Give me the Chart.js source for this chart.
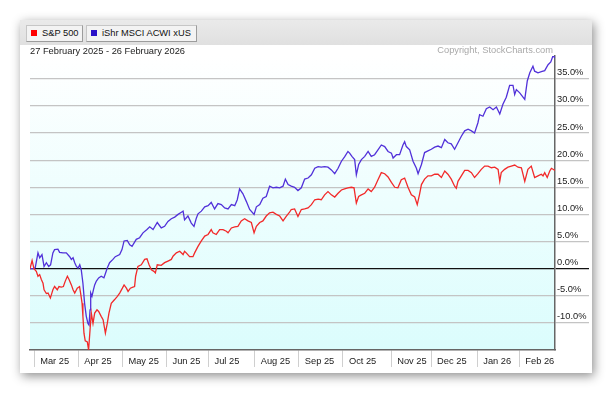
<!DOCTYPE html>
<html><head><meta charset="utf-8">
<script src="https://cdn.jsdelivr.net/npm/chart.js@4.4.1/dist/chart.umd.min.js"></script>
<style>
html,body{margin:0;padding:0;background:#fff;width:612px;height:394px;overflow:hidden;font-family:"Liberation Sans",Arial,sans-serif;}
#card{position:absolute;left:20px;top:20px;width:572px;height:353px;background:#fff;box-shadow:2px 3px 10px rgba(0,0,0,0.45);}
#hdr{position:absolute;left:20px;top:20px;width:572px;height:25px;background:linear-gradient(#eaeaea,#e0e0e0);}
.btn{position:absolute;top:25px;height:15px;background:#f3f3f3;border:1px solid #c6c6c6;border-right-color:#9c9c9c;border-bottom-color:#9c9c9c;font-size:9.3px;line-height:15px;color:#111;white-space:nowrap;z-index:3;}
.btn span{position:absolute;top:0;}
.sq{position:absolute;top:4px;width:6px;height:6px;}
#wrap{position:absolute;left:0;top:0;width:612px;height:394px;z-index:2;}
.txt{position:absolute;font-size:9.3px;white-space:nowrap;z-index:3;line-height:11px;}
</style></head>
<body>
<div id="card"></div>
<div id="hdr"></div>
<div class="btn" style="left:26px;width:55px;"><div class="sq" style="left:4px;background:#ff0000;"></div><span style="left:15px;">S&amp;P 500</span></div>
<div class="btn" style="left:86px;width:109px;"><div class="sq" style="left:4px;background:#2a12c8;"></div><span style="left:15px;">iShr MSCI ACWI xUS</span></div>
<div class="txt" style="left:30px;top:45.5px;color:#222;">27 February 2025 - 26 February 2026</div>
<div class="txt" style="right:59px;top:45px;color:#a9a9a9;">Copyright, StockCharts.com</div>
<div id="wrap"><canvas id="c" width="612" height="394"></canvas></div>
<script>
// Trading-day index (0 = 27 Feb 2025, 250 = 26 Feb 2026) and % change
const spxDay = [0,1,1.9,3,3.8,4.6,5.4,6.2,6.7,7.8,8.6,9.7,10.2,10.9,11.7,13,13.8,14.9,15.9,16.8,17.8,18.6,19.7,20.5,21.3,22.5,23.6,24.1,24.8,25.2,25.7,26.3,27.3,27.9,28.7,29.2,30,30.8,31.9,32.7,33.9,34.8,35.9,36.8,37.6,38.7,40.3,41.6,42.7,44,44.8,45.9,46.7,47.8,49,49.8,50.3,51.4,53,54.6,55.7,56.7,57.8,59,59.7,60.6,62.5,64.1,65.7,67.3,68.1,69.7,71.3,72.9,73.6,74.4,76,77.6,78.4,80,81.6,83.2,84.8,86.3,87.1,88.7,90.3,91.9,93.5,94.3,95.9,97.5,99,100.6,102.2,103.8,105.4,106.7,107.8,109.4,110.9,112.5,114.1,115.7,117.3,118.9,120.5,122.1,123.6,124.4,126,127.6,129.2,130.8,132.4,134,135.6,137.2,138.7,140.3,141.9,143.5,145.1,146.7,148.3,149.8,151.4,153,154.3,155.4,156.5,157.8,159.4,161,162.5,164.1,165.7,167.3,168.9,170.5,172.1,173.7,175.2,176.8,178.4,180,181.6,183.2,184.4,185.5,186.4,187.9,189.5,191.1,192.7,194.3,195.9,197.5,199,200.6,202.2,203,203.8,205.4,207,208.6,210.2,211.7,213.3,214.9,216.5,218.1,219.7,221.3,222.9,223.7,224.4,226,227.6,229.2,230.8,232.4,234,235.6,237.1,238.7,240.3,241.9,243.5,244.3,245.1,246.3,247.5,248.3,250];
const spxPct = [0,1.5,0,-0.5,-1.4,-1.1,-2,-2.7,-3.9,-4.6,-4.5,-5.4,-4.8,-3.9,-3.3,-3.9,-3.3,-3.4,-3.3,-2.3,-1.4,-2,-3,-3.9,-4.5,-3.6,-3.3,-4.5,-6.4,-8.8,-11.9,-13.3,-13.5,-15,-10.7,-8.2,-10.1,-8.2,-7.6,-7.9,-8.8,-9.4,-11.9,-10.1,-8.2,-6.4,-5.7,-5.1,-4.5,-3.6,-3,-3.6,-4.2,-3.6,-3.4,-3.3,-1.4,0.4,0.7,1.7,1.8,0.7,-0.2,-0.5,-0.8,0.7,0.6,1.1,1.4,1.7,2.3,2.9,3.2,2.6,3.2,2.9,2.2,2.2,2.9,4.1,5.1,6,6.3,7.2,6.6,6.3,7.2,7.2,6.9,6.6,7.5,7.7,7.8,8.8,9.2,8.8,8.5,6.6,7.8,8.5,8.8,9.7,10.3,10.4,10,9.7,8.8,9.7,10.4,10.9,11,9.6,10.9,11,11.2,11.8,12.7,12.8,12.7,13.6,14.2,13.6,13.2,13.9,14.5,14.7,14.9,15,14.9,12.1,13.3,13.6,13.9,14.7,14.2,15,16.4,17.7,17.5,16.9,15.9,15,14.9,16.4,16.7,15,13.6,13.2,11.8,13.7,15.5,16.5,17.1,17.1,17.4,17.4,16.8,18,17.4,16.5,15.2,14.8,16.1,17.1,18.1,18.1,17.7,16.8,17.5,18.3,18.9,18.9,18.6,18.7,18.3,16.1,17.7,18.3,18.7,18.9,19.1,18.7,18.6,16.1,18.3,18.9,16.8,17.1,17.4,17.1,17.7,16.8,18,18.5,18.1];
const acwxDay = [0,1.9,2.5,3.8,4.6,5.7,6.7,7.8,8.9,9.8,10.9,11.7,13.3,14.1,15.7,17.3,18.9,19.7,20.5,21.3,22.1,22.9,23.7,24.4,25.2,26,26.8,27.6,28.1,28.6,28.9,29.5,30.2,30.8,31.6,32.7,33.9,35.2,36,36.8,37.9,39.5,40.6,42.7,43.8,44.8,46.3,47.5,48.6,50.6,52.2,53.8,55.7,57,58.6,60.6,62.5,64.1,65.7,67.3,68.9,70.5,72.1,72.9,73.6,75.2,76.8,78.1,79.2,80,81.6,83.2,84.8,86.3,87.9,89.5,91.1,92.7,94.3,95.9,97.5,98.7,99.8,101.4,103,104.6,106.7,107.8,109.4,110.9,112.5,114.1,115.7,117.3,118.9,120.5,121.6,122.9,124.4,126,127.6,129.2,130.8,132.4,134,135.6,137.2,138.7,140.3,141.9,143.5,145.1,146.7,148.3,149.8,151.4,152.2,153.3,154.6,155.4,156.5,157.8,159.4,161,162.5,164.1,165.7,167.3,168.9,170.5,172.1,172.9,174.5,176,177.6,178.4,179.2,180.8,182.4,184,184.8,186.4,187.9,189.5,191.1,192.7,194.3,195.9,197.5,199,200.6,202.2,203.8,205.4,207,208.6,210.2,211.7,213.3,214.1,215.7,217.3,218.9,220.5,222.1,223.7,225.2,226.8,228.4,230,230.8,231.6,233.2,235.6,236.8,238,239.5,240.3,241.9,243.5,245.1,246.7,248,249,250];
const acwxPct = [0,0,0.2,2.9,2,2.6,0.4,1.1,0.4,0.7,2.9,3.5,3.6,3,2.9,2.9,2.2,1.7,2,1.1,0.4,0.1,0.7,-0.2,-2.7,-6.4,-8.8,-10.1,-10.4,-7.6,-4.5,-5.1,-3.9,-3,-2.3,-1.7,-1.4,-1.7,-0.8,0.1,1.1,1.7,2.2,2.6,3.5,5.1,5.2,4.4,4.1,5.4,5.7,6.6,7.2,7.7,7.2,8.5,7.5,7.8,8.7,9.2,9.5,10,10.4,10.6,9,9.7,8.4,7.8,9.3,10.1,10.6,11.4,11.6,12.2,11,12,11.8,11.2,11,11.8,11.6,12.7,14.7,13.8,12.4,10.9,10,11.4,11.8,13,13.3,15.2,14.9,15,14.9,15.2,16.5,15.5,15.2,15,14.4,14.9,16.5,16.7,17.3,18.5,18.8,18.7,18.8,18.7,18.2,17.5,18.5,19.8,20.6,21.6,21.3,20.7,20.1,17.3,19.2,20.1,20.7,21.6,20.7,21,21.9,22.8,22.5,21.6,21.3,20.4,21,21,22.8,23.4,22.5,21.9,19.8,18.5,17.5,19.2,21.4,21.7,22,22.4,22.6,22.3,23.8,23.2,23,22,23.2,24.4,25.4,25.7,25.4,25,26.9,28.4,28.1,29.5,29.8,29.3,29.8,28.5,30.3,31.6,33.8,33.8,32.1,33,32.4,31.2,34.6,36.1,37.3,36.4,36.1,36.3,36.5,37.6,38.1,39.2,38.9];
const monthStartDay = [2,23,44,65,85,107,128,149,172,191,213,233];
const monthLabels = ['Mar 25','Apr 25','May 25','Jun 25','Jul 25','Aug 25','Sep 25','Oct 25','Nov 25','Dec 25','Jan 26','Feb 26'];
const yTickValues = [-10,-5,0,5,10,15,20,25,30,35];
const seriesNames = ['S&P 500','iShr MSCI ACWI xUS'];

const FONT = {family:'"Liberation Sans", Arial, sans-serif', size:9.3};
const bgPlugin = {
  id:'bg',
  beforeDraw(chart){
    const {ctx, chartArea:a} = chart;
    const g = ctx.createLinearGradient(0, a.top, 0, a.bottom);
    g.addColorStop(0,'#ffffff');
    g.addColorStop(1,'#dbfdfd');
    ctx.save(); ctx.fillStyle = g;
    ctx.fillRect(a.left, a.top, a.right - a.left, a.bottom - a.top);
    ctx.restore();
  }
};
new Chart(document.getElementById('c'), {
  type:'line',
  data:{datasets:[
    {label:seriesNames[0], data:spxDay.map((d,i)=>({x:d,y:spxPct[i]})), borderColor:'#f22a2a', borderWidth:1.3, pointRadius:0, tension:0},
    {label:seriesNames[1], data:acwxDay.map((d,i)=>({x:d,y:acwxPct[i]})), borderColor:'#5131d9', borderWidth:1.3, pointRadius:0, tension:0}
  ]},
  options:{
    responsive:false, animation:false, devicePixelRatio:1,
    layout:{padding:{left:30, top:56, right:22, bottom:0}},
    plugins:{legend:{display:false}, tooltip:{enabled:false}},
    scales:{
      x:{type:'linear', min:0, max:250,
        afterBuildTicks(s){ s.ticks = monthStartDay.map(v=>({value:v})); },
        afterFit(s){ s.height = 44; },
        ticks:{autoSkip:false, maxRotation:0, align:'start', labelOffset:6, padding:-11, color:'#222', font:FONT,
          callback:(v,i)=>monthLabels[i]},
        grid:{drawOnChartArea:false, drawTicks:true, tickLength:17, color:'#cfcfcf', lineWidth:1},
        border:{display:true, color:'#666', width:1.5}
      },
      y:{type:'linear', position:'right', min:-15, max:39.2,
        afterBuildTicks(s){ s.ticks = yTickValues.map(v=>({value:v})); },
        afterFit(s){ s.width = 35; },
        ticks:{padding:-32, labelOffset:-6, color:'#222', font:FONT,
          callback:(v)=>v.toFixed(1)+'%'},
        grid:{drawTicks:true, tickLength:34, lineWidth:1.2,
          color:(ctx)=> (ctx.tick && ctx.tick.value===0) ? '#111' : '#c4c4c4'},
        border:{display:true, color:'#666', width:1.5}
      }
    }
  },
  plugins:[bgPlugin]
});
</script>
</body></html>
